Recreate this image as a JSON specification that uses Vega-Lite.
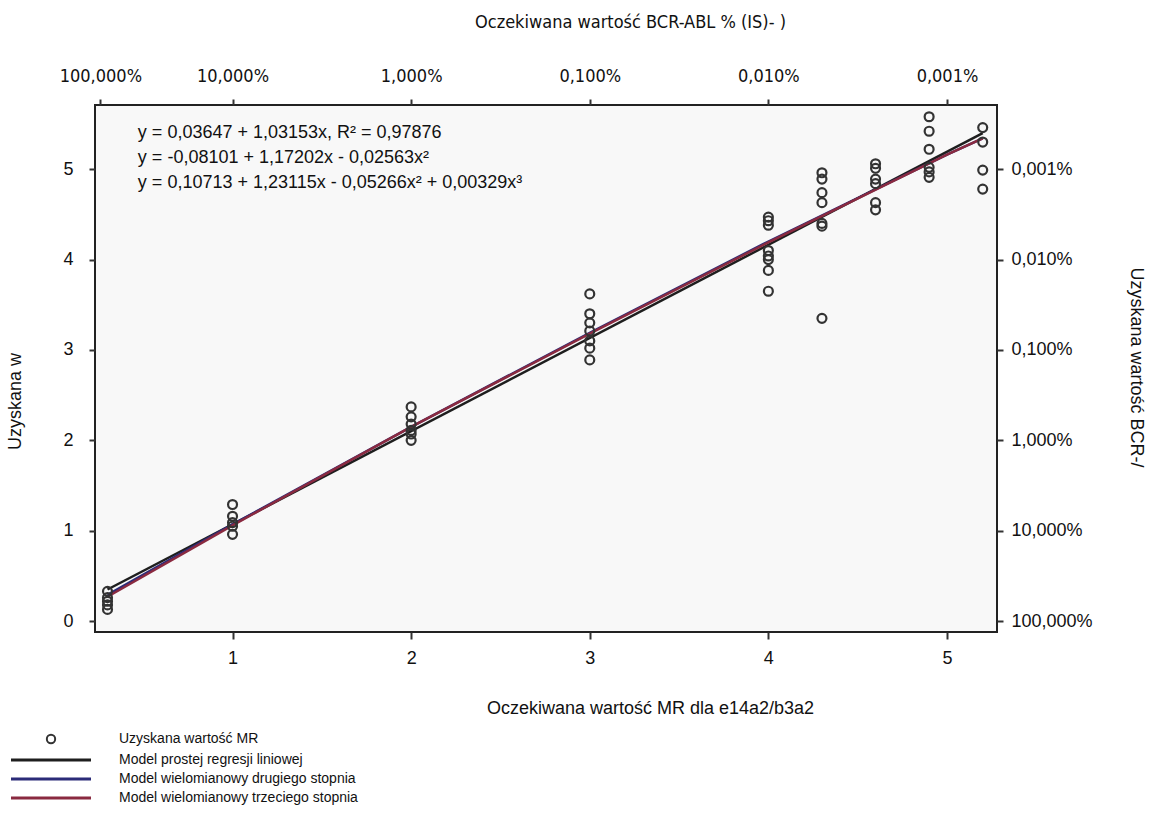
{
  "$schema": "https://vega.github.io/schema/vega-lite/v6.json",
  "width": 902,
  "height": 527,
  "autosize": {"type": "none"},
  "padding": {"left": 95, "top": 105, "right": 156, "bottom": 184},
  "background": "#ffffff",
  "config": {
    "font": "Liberation Sans",
    "view": {"fill": "#f8f8f8", "stroke": "#222222", "strokeWidth": 2},
    "axis": {"grid": false, "domain": false, "tickColor": "#333333", "tickWidth": 2, "labelColor": "#111111", "titleColor": "#111111", "labelFont": "Liberation Sans", "titleFont": "Liberation Sans", "titleFontWeight": "normal", "labelFontWeight": "normal"}
  },
  "datasets": {
    "pts": [
      {"x": 0.3, "y": 0.33}, {"x": 0.3, "y": 0.26}, {"x": 0.3, "y": 0.22}, {"x": 0.3, "y": 0.18}, {"x": 0.3, "y": 0.13},
      {"x": 1, "y": 1.29}, {"x": 1, "y": 1.16}, {"x": 1, "y": 1.09}, {"x": 1, "y": 1.05}, {"x": 1, "y": 0.96},
      {"x": 2, "y": 2.37}, {"x": 2, "y": 2.26}, {"x": 2, "y": 2.18}, {"x": 2, "y": 2.11}, {"x": 2, "y": 2.07}, {"x": 2, "y": 2.0},
      {"x": 3, "y": 3.62}, {"x": 3, "y": 3.4}, {"x": 3, "y": 3.3}, {"x": 3, "y": 3.21}, {"x": 3, "y": 3.1}, {"x": 3, "y": 3.02}, {"x": 3, "y": 2.89},
      {"x": 4, "y": 4.47}, {"x": 4, "y": 4.43}, {"x": 4, "y": 4.38}, {"x": 4, "y": 4.1}, {"x": 4, "y": 4.04}, {"x": 4, "y": 4.0}, {"x": 4, "y": 3.88}, {"x": 4, "y": 3.65},
      {"x": 4.3, "y": 4.96}, {"x": 4.3, "y": 4.89}, {"x": 4.3, "y": 4.74}, {"x": 4.3, "y": 4.63}, {"x": 4.3, "y": 4.4}, {"x": 4.3, "y": 4.37}, {"x": 4.3, "y": 3.35},
      {"x": 4.6, "y": 5.06}, {"x": 4.6, "y": 5.01}, {"x": 4.6, "y": 4.89}, {"x": 4.6, "y": 4.84}, {"x": 4.6, "y": 4.63}, {"x": 4.6, "y": 4.55},
      {"x": 4.9, "y": 5.58}, {"x": 4.9, "y": 5.42}, {"x": 4.9, "y": 5.22}, {"x": 4.9, "y": 5.02}, {"x": 4.9, "y": 4.97}, {"x": 4.9, "y": 4.91},
      {"x": 5.2, "y": 5.46}, {"x": 5.2, "y": 5.3}, {"x": 5.2, "y": 4.99}, {"x": 5.2, "y": 4.78}
    ],
    "fits": [
      {"model": "Model prostej regresji liniowej", "x": 0.3, "y": 0.35},
      {"model": "Model prostej regresji liniowej", "x": 5.2, "y": 5.4},
      {"model": "Model wielomianowy drugiego stopnia", "x": 0.3, "y": 0.29},
      {"model": "Model wielomianowy drugiego stopnia", "x": 1, "y": 1.07},
      {"model": "Model wielomianowy drugiego stopnia", "x": 2, "y": 2.15},
      {"model": "Model wielomianowy drugiego stopnia", "x": 3, "y": 3.19},
      {"model": "Model wielomianowy drugiego stopnia", "x": 4, "y": 4.2},
      {"model": "Model wielomianowy drugiego stopnia", "x": 5, "y": 5.16},
      {"model": "Model wielomianowy drugiego stopnia", "x": 5.2, "y": 5.34},
      {"model": "Model wielomianowy trzeciego stopnia", "x": 0.3, "y": 0.27},
      {"model": "Model wielomianowy trzeciego stopnia", "x": 1, "y": 1.06},
      {"model": "Model wielomianowy trzeciego stopnia", "x": 2, "y": 2.15},
      {"model": "Model wielomianowy trzeciego stopnia", "x": 3, "y": 3.18},
      {"model": "Model wielomianowy trzeciego stopnia", "x": 4, "y": 4.19},
      {"model": "Model wielomianowy trzeciego stopnia", "x": 5, "y": 5.16},
      {"model": "Model wielomianowy trzeciego stopnia", "x": 5.2, "y": 5.34}
    ],
    "eqs": [
      {"x": 0.47, "y": 5.4, "label": "y = 0,03647 + 1,03153x, R² = 0,97876"},
      {"x": 0.47, "y": 5.12, "label": "y = -0,08101 + 1,17202x - 0,02563x²"},
      {"x": 0.47, "y": 4.85, "label": "y = 0,10713 + 1,23115x - 0,05266x² + 0,00329x³"}
    ]
  },
  "layer": [
    {
      "data": {"name": "fits"},
      "mark": {"type": "line", "strokeWidth": 2.5, "clip": false},
      "encoding": {
        "x": {
          "field": "x", "type": "quantitative",
          "scale": {"domain": [0.23, 5.28], "nice": false, "zero": false},
          "axis": {
            "orient": "bottom", "values": [1, 2, 3, 4, 5], "format": "d",
            "title": "Oczekiwana wartość MR dla e14a2/b3a2",
            "labelFontSize": 18, "titleFontSize": 18, "tickSize": 7, "labelPadding": 10,
            "titleX": 555, "titleY": 76, "titleAlign": "center", "titleBaseline": "middle"
          }
        },
        "y": {
          "field": "y", "type": "quantitative",
          "scale": {"domain": [-0.12, 5.71], "nice": false, "zero": false},
          "axis": {
            "orient": "left", "values": [0, 1, 2, 3, 4, 5], "format": "d",
            "title": "Uzyskana w",
            "labelFontSize": 18, "titleFontSize": 18, "tickSize": 6, "labelPadding": 16,
            "titleX": -80, "titleY": 296, "titleAngle": -90, "titleAlign": "center", "titleBaseline": "middle"
          }
        },
        "color": {
          "field": "model", "type": "nominal",
          "scale": {
            "domain": ["Uzyskana wartość MR", "Model prostej regresji liniowej", "Model wielomianowy drugiego stopnia", "Model wielomianowy trzeciego stopnia"],
            "range": ["#333333", "#1e1e1e", "#2b2b78", "#8a2a40"]
          },
          "legend": {
            "orient": "none", "legendX": -88, "legendY": 627, "title": null,
            "direction": "vertical",
            "labelFontSize": 14, "labelColor": "#111111", "labelFont": "Liberation Sans", "labelLimit": 500,
            "symbolSize": 6400, "symbolType": "stroke", "symbolStrokeWidth": 3,
            "rowPadding": 5, "labelOffset": 61, "symbolOffset": 37,
            "encode": {
              "symbols": {
                "update": {
                  "shape": {"signal": "datum.value === 'Uzyskana wartość MR' ? 'circle' : 'stroke'"},
                  "size": {"signal": "datum.value === 'Uzyskana wartość MR' ? 70 : 6400"},
                  "strokeWidth": {"signal": "datum.value === 'Uzyskana wartość MR' ? 2 : 3"},
                  "fillOpacity": {"value": 0}
                }
              }
            }
          }
        },
        "order": {"field": "x", "type": "quantitative"}
      }
    },
    {
      "data": {"name": "pts"},
      "mark": {"type": "point", "shape": "circle", "filled": false, "size": 80, "strokeWidth": 2.2, "opacity": 1},
      "encoding": {
        "x": {"field": "x", "type": "quantitative", "axis": null},
        "y": {"field": "y", "type": "quantitative", "axis": null},
        "color": {"datum": "Uzyskana wartość MR", "type": "nominal"}
      }
    },
    {
      "data": {"name": "eqs"},
      "mark": {"type": "text", "align": "left", "baseline": "middle", "fontSize": 18, "color": "#111111"},
      "encoding": {
        "x": {"field": "x", "type": "quantitative", "axis": null},
        "y": {"field": "y", "type": "quantitative", "axis": null},
        "text": {"field": "label"}
      }
    },
    {
      "data": {"name": "pts"},
      "mark": {"type": "point", "opacity": 0},
      "encoding": {
        "x": {
          "field": "x", "type": "quantitative",
          "axis": {
            "orient": "top", "values": [0.26, 1, 2, 3, 4, 5],
            "labelExpr": "datum.value < 0.5 ? '100,000%' : datum.value == 1 ? '10,000%' : datum.value == 2 ? '1,000%' : datum.value == 3 ? '0,100%' : datum.value == 4 ? '0,010%' : '0,001%'",
            "title": "Oczekiwana wartość BCR-ABL % (IS)-  )",
            "labelFontSize": 18, "titleFontSize": 18, "labelFont": "DejaVu Sans Condensed, Liberation Sans", "titleFont": "DejaVu Sans Condensed, Liberation Sans",
            "tickSize": 6, "labelPadding": 14, "labelOverlap": false,
            "titleX": 535, "titleY": -83, "titleAlign": "center", "titleBaseline": "middle"
          }
        },
        "y": {
          "field": "y", "type": "quantitative",
          "axis": {
            "orient": "right", "values": [0, 1, 2, 3, 4, 5],
            "labelExpr": "datum.value == 0 ? '100,000%' : datum.value == 1 ? '10,000%' : datum.value == 2 ? '1,000%' : datum.value == 3 ? '0,100%' : datum.value == 4 ? '0,010%' : '0,001%'",
            "title": "Uzyskana wartość BCR-/",
            "labelFontSize": 18, "titleFontSize": 18, "tickSize": 6, "labelPadding": 8,
            "titleX": 138, "titleY": 262, "titleAngle": 90, "titleAlign": "center", "titleBaseline": "middle"
          }
        }
      }
    }
  ],
  "resolve": {"axis": {"x": "independent", "y": "independent"}}
}
